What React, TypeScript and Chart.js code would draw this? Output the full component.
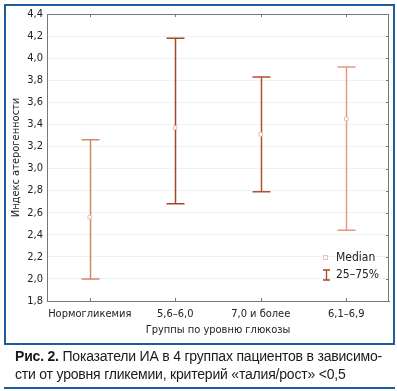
import React, { useEffect, useRef } from "react";
import { Chart, registerables } from "chart.js";

Chart.register(...registerables);

const categories = ["Нормогликемия", "5,6–6,0", "7,0 и более", "6,1–6,9"];
const q25 = [2.0, 2.68, 2.79, 2.44];
const q75 = [3.26, 4.18, 3.83, 3.92];
const medians = [2.56, 3.37, 3.31, 3.45];
const barColors = ["#d4876a", "#a44629", "#ad5233", "#e49a7f"];
const yMin = 1.8;
const yMax = 4.4;
const yStep = 0.2;
const yTitle = "Индекс атерогенности";
const xTitle = "Группы по уровню глюкозы";
const legendMedian = "Median";
const legendRange = "25–75%";

const FONT = "'Liberation Sans Narrow', 'Arial Narrow', 'DejaVu Sans Condensed', sans-serif";

const whiskerPlugin = {
  id: "whiskers",
  beforeDatasetsDraw(chart: any) {
    const { ctx, scales } = chart;
    const xs = scales.x;
    const ys = scales.y;
    ctx.save();
    ctx.lineWidth = 1.5;
    categories.forEach((_, i) => {
      const x = Math.round(xs.getPixelForValue(i)) + 0.5;
      const yt = ys.getPixelForValue(q75[i]);
      const yb = ys.getPixelForValue(q25[i]);
      ctx.strokeStyle = barColors[i];
      ctx.beginPath();
      ctx.moveTo(x, yt);
      ctx.lineTo(x, yb);
      ctx.moveTo(x - 9, yt);
      ctx.lineTo(x + 9, yt);
      ctx.moveTo(x - 9, yb);
      ctx.lineTo(x + 9, yb);
      ctx.stroke();
    });
    ctx.restore();
  },
  afterDraw(chart: any) {
    const { ctx, chartArea, scales } = chart;
    ctx.save();
    ctx.strokeStyle = "#777";
    ctx.lineWidth = 1;
    ctx.beginPath();
    ctx.moveTo(chartArea.left, chartArea.top + 0.5);
    ctx.lineTo(chartArea.right, chartArea.top + 0.5);
    ctx.moveTo(chartArea.right - 0.5, chartArea.top);
    ctx.lineTo(chartArea.right - 0.5, chartArea.bottom);
    ctx.stroke();
    ctx.beginPath();
    categories.forEach((_, i) => {
      const x = Math.round(scales.x.getPixelForValue(i)) + 0.5;
      ctx.moveTo(x, chartArea.top);
      ctx.lineTo(x, chartArea.top + 3);
      ctx.moveTo(x, chartArea.bottom);
      ctx.lineTo(x, chartArea.bottom - 3);
    });
    for (let v = yMin; v <= yMax + 1e-6; v += yStep) {
      const y = Math.round(scales.y.getPixelForValue(v)) + 0.5;
      ctx.moveTo(chartArea.right, y);
      ctx.lineTo(chartArea.right - 3, y);
    }
    ctx.stroke();

    const lx = chartArea.right - 63;
    const ly1 = chartArea.bottom - 43;
    const ly2 = chartArea.bottom - 26;
    ctx.strokeStyle = "#e0c8c0";
    ctx.lineWidth = 1;
    ctx.strokeRect(lx - 2.5, ly1 - 2.5, 4, 4);
    ctx.strokeStyle = "#a44629";
    ctx.lineWidth = 1.3;
    ctx.beginPath();
    ctx.moveTo(lx - 3, ly2 - 5);
    ctx.lineTo(lx + 4, ly2 - 5);
    ctx.moveTo(lx + 0.5, ly2 - 5);
    ctx.lineTo(lx + 0.5, ly2 + 5);
    ctx.moveTo(lx - 3, ly2 + 5);
    ctx.lineTo(lx + 4, ly2 + 5);
    ctx.stroke();
    ctx.fillStyle = "#222";
    ctx.font = `12px ${FONT}`;
    ctx.textBaseline = "middle";
    ctx.textAlign = "left";
    ctx.fillText(legendMedian, lx + 10, ly1);
    ctx.fillText(legendRange, lx + 10, ly2);
    ctx.restore();
  },
};

export default function App() {
  const ref = useRef<HTMLCanvasElement | null>(null);

  useEffect(() => {
    if (!ref.current) return;
    const chart = new Chart(ref.current, {
      type: "line",
      data: {
        labels: categories,
        datasets: [
          {
            data: medians,
            showLine: false,
            pointStyle: "rect",
            pointRadius: 2.5,
            pointBackgroundColor: "#ffffff",
            pointBorderColor: "#e2bfb2",
            pointBorderWidth: 1,
          },
        ],
      },
      options: {
        animation: false,
        responsive: false,
        events: [],
        layout: { padding: { left: 10, top: 14, right: 8, bottom: 46 } },
        plugins: { legend: { display: false }, tooltip: { enabled: false } },
        scales: {
          x: {
            type: "category",
            offset: true,
            grid: { display: false, drawTicks: false },
            border: { color: "#777", width: 1 },
            ticks: { color: "#222", font: { family: FONT, size: 11 }, padding: 7, maxRotation: 0, minRotation: 0, autoSkip: false },
            title: { display: true, text: xTitle, color: "#222", font: { family: FONT, size: 11 }, padding: { top: 6, bottom: 8 } },
            afterFit(scale: any) {
              scale.height = 44;
            },
          },
          y: {
            min: yMin,
            max: yMax,
            grid: { color: "#f1f1f1", drawTicks: false },
            border: { color: "#777", width: 1 },
            ticks: {
              stepSize: yStep,
              color: "#222",
              font: { family: FONT, size: 11 },
              padding: 4,
              callback: (v: any) => Number(v).toFixed(1).replace(".", ","),
            },
            title: { display: true, text: yTitle, color: "#222", font: { family: FONT, size: 11 }, padding: { top: 0, bottom: 4 } },
            afterFit(scale: any) {
              scale.width = 37;
            },
          },
        },
      },
      plugins: [whiskerPlugin],
    });
    return () => chart.destroy();
  }, []);

  return (
    <div style={{ position: "fixed", left: 0, top: 0, width: 397, height: 391, background: "#fff", overflow: "hidden" }}>
      <canvas ref={ref} width={397} height={391} style={{ position: "absolute", left: 0, top: 0, width: 397, height: 391 }} />
      <div
        style={{
          position: "absolute",
          left: 4,
          top: 4,
          width: 387,
          height: 337,
          border: "2px solid #1f5c9e",
          pointerEvents: "none",
        }}
      />
      <div
        style={{
          position: "absolute",
          left: 15,
          top: 347,
          width: 385,
          fontFamily: "'Liberation Sans', Arial, sans-serif",
          fontSize: 14,
          lineHeight: "18px",
          color: "#1a1a1a",
          letterSpacing: -0.2,
          whiteSpace: "nowrap",
        }}
      >
        <b>Рис. 2.</b> Показатели ИА в 4 группах пациентов в зависимо-
        <br />
        сти от уровня гликемии, критерий «талия/рост» &lt;0,5
      </div>
      <div style={{ position: "absolute", left: 4, top: 387, width: 391, height: 2, background: "#1f5c9e" }} />
    </div>
  );
}
